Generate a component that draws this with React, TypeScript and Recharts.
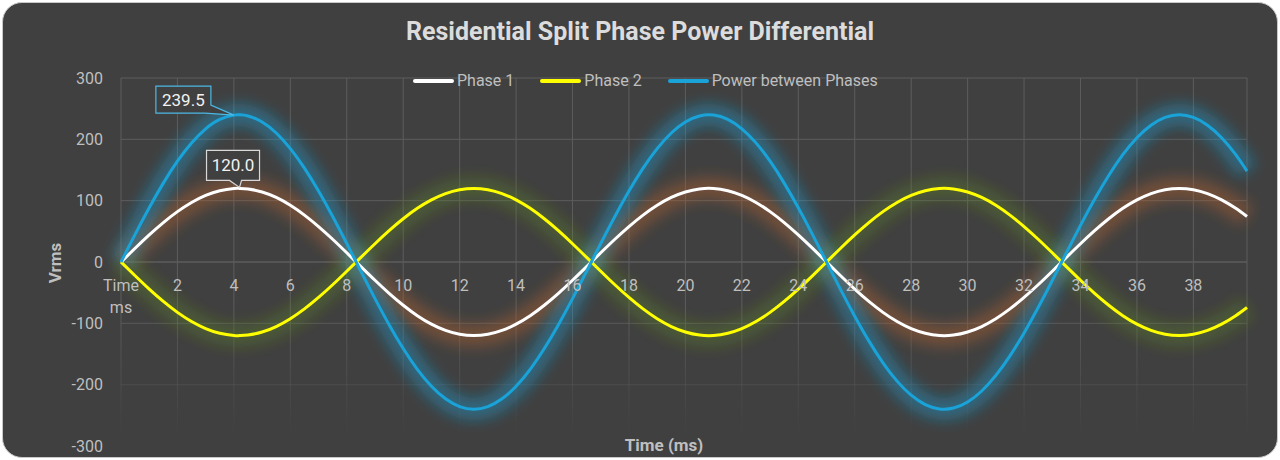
import React from "react"
import { CartesianGrid, Line, LineChart, ReferenceLine, XAxis, YAxis } from "recharts"

// sampled every 0.5 ms (plus the two labelled points and the last sample)
const timeMs = [
  0, 0.5, 1, 1.5, 2, 2.5, 3, 3.5, 4, 4.2,
  4.5, 5, 5.5, 6, 6.5, 7, 7.5, 8, 8.5, 9,
  9.5, 10, 10.5, 11, 11.5, 12, 12.5, 13, 13.5, 14,
  14.5, 15, 15.5, 16, 16.5, 17, 17.5, 18, 18.5, 19,
  19.5, 20, 20.5, 21, 21.5, 22, 22.5, 23, 23.5, 24,
  24.5, 25, 25.5, 26, 26.5, 27, 27.5, 28, 28.5, 29,
  29.5, 30, 30.5, 31, 31.5, 32, 32.5, 33, 33.5, 34,
  34.5, 35, 35.5, 36, 36.5, 37, 37.5, 38, 38.5, 39,
  39.5, 39.9,
]

const phase1 = [
  0, 22.5, 44.2, 64.3, 82.1, 97.1, 108.6, 116.2, 119.8, 120.0,
  119.1, 114.1, 105.2, 92.5, 76.5, 57.8, 37.1, 15.0, -7.5, -29.8,
  -51.1, -70.5, -87.5, -101.3, -111.6, -117.9, -120.0, -117.9, -111.6, -101.3,
  -87.5, -70.5, -51.1, -29.8, -7.5, 15.0, 37.1, 57.8, 76.5, 92.5,
  105.2, 114.1, 119.1, 119.8, 116.2, 108.6, 97.1, 82.1, 64.3, 44.2,
  22.5, 0, -22.5, -44.2, -64.3, -82.1, -97.1, -108.6, -116.2, -119.8,
  -119.1, -114.1, -105.2, -92.5, -76.5, -57.8, -37.1, -15.0, 7.5, 29.8,
  51.1, 70.5, 87.5, 101.3, 111.6, 117.9, 120.0, 117.9, 111.6, 101.3,
  87.5, 74.1,
]

const phase2 = [
  0, -22.5, -44.2, -64.3, -82.1, -97.1, -108.6, -116.2, -119.8, -120.0,
  -119.1, -114.1, -105.2, -92.5, -76.5, -57.8, -37.1, -15.0, 7.5, 29.8,
  51.1, 70.5, 87.5, 101.3, 111.6, 117.9, 120.0, 117.9, 111.6, 101.3,
  87.5, 70.5, 51.1, 29.8, 7.5, -15.0, -37.1, -57.8, -76.5, -92.5,
  -105.2, -114.1, -119.1, -119.8, -116.2, -108.6, -97.1, -82.1, -64.3, -44.2,
  -22.5, 0, 22.5, 44.2, 64.3, 82.1, 97.1, 108.6, 116.2, 119.8,
  119.1, 114.1, 105.2, 92.5, 76.5, 57.8, 37.1, 15.0, -7.5, -29.8,
  -51.1, -70.5, -87.5, -101.3, -111.6, -117.9, -120.0, -117.9, -111.6, -101.3,
  -87.5, -74.1,
]

const powerBetween = [
  0, 45.0, 88.3, 128.6, 164.3, 194.2, 217.2, 232.5, 239.5, 240.0,
  238.1, 228.3, 210.3, 184.9, 153.0, 115.6, 74.2, 30.1, -15.1, -59.7,
  -102.2, -141.1, -175.0, -202.6, -223.1, -235.7, -240.0, -235.7, -223.1, -202.6,
  -175.0, -141.1, -102.2, -59.7, -15.1, 30.1, 74.2, 115.6, 153.0, 184.9,
  210.3, 228.3, 238.1, 239.5, 232.5, 217.2, 194.2, 164.3, 128.6, 88.3,
  45.0, 0, -45.0, -88.3, -128.6, -164.3, -194.2, -217.2, -232.5, -239.5,
  -238.1, -228.3, -210.3, -184.9, -153.0, -115.6, -74.2, -30.1, 15.1, 59.7,
  102.2, 141.1, 175.0, 202.6, 223.1, 235.7, 240.0, 235.7, 223.1, 202.6,
  175.0, 148.2,
]

const xTicks = [0, 2, 4, 6, 8, 10, 12, 14, 16, 18, 20, 22, 24, 26, 28, 30, 32, 34, 36, 38]
const yTicks = [-300, -200, -100, 0, 100, 200, 300]

const POWER_LABEL_T = 4
const PHASE1_LABEL_T = 4.2

const series = [
  { key: "p1", name: "Phase 1", color: "#ffffff", glow: "#b8622a", glowOpacity: 0.42 },
  { key: "p2", name: "Phase 2", color: "#ffff00", glow: "#5f8a1c", glowOpacity: 0.34 },
  { key: "pw", name: "Power between Phases", color: "#1aa3d9", glow: "#1a9fd6", glowOpacity: 0.42 },
]

const data = timeMs.map((t, i) => ({ t, p1: phase1[i], p2: phase2[i], pw: powerBetween[i] }))

const FONT = 'Roboto, "Noto Sans", sans-serif'
const TEXT = "#bfbfbf"
const BG = "#404040"
const GRID = "#5c5c5c"

const W = 1280
const H = 460
const PLOT_TOP = 78
const PLOT_BOTTOM = 446
const HALF_PLOT = (PLOT_BOTTOM - PLOT_TOP) / 2

// x labels sit on the zero line, not under the plot
function ZeroLineTick(props: any) {
  const { x, y, payload } = props
  const base = y - HALF_PLOT + 29
  if (payload.value === 0) {
    return (
      <g>
        <text x={x} y={base} textAnchor="middle" fill={TEXT} fontSize={16} fontFamily={FONT}>Time</text>
        <text x={x} y={base + 22} textAnchor="middle" fill={TEXT} fontSize={16} fontFamily={FONT}>ms</text>
      </g>
    )
  }
  return (
    <text x={x} y={base} textAnchor="middle" fill={TEXT} fontSize={16} fontFamily={FONT}>{payload.value}</text>
  )
}

function powerLabel(props: any) {
  const { x, y, index, value } = props
  if (timeMs[index] !== POWER_LABEL_T) return <g />
  const path = `M${x - 78},${y - 29} H${x - 23} V${y - 10} L${x},${y} L${x - 29},${y - 2} H${x - 78} Z`
  return (
    <g>
      <path d={path} fill={BG} stroke="#4cb8e4" strokeWidth={1.2} />
      <text x={x - 50.5} y={y - 9.5} textAnchor="middle" fill="#f2f2f2" fontSize={17} fontFamily={FONT}>
        {Number(value).toFixed(1)}
      </text>
    </g>
  )
}

function phase1Label(props: any) {
  const { x, y, index, value } = props
  if (timeMs[index] !== PHASE1_LABEL_T) return <g />
  const path = `M${x - 33},${y - 38} H${x + 20} V${y - 8} H${x + 2} L${x},${y - 1} L${x - 10},${y - 8} H${x - 33} Z`
  return (
    <g>
      <path d={path} fill={BG} stroke="#d9d9d9" strokeWidth={1.2} />
      <text x={x - 6.5} y={y - 17} textAnchor="middle" fill="#f2f2f2" fontSize={17} fontFamily={FONT}>
        {Number(value).toFixed(1)}
      </text>
    </g>
  )
}

export default function App() {
  return (
    <div style={{ position: "relative", width: W, height: H, background: "#fff", fontFamily: FONT }}>
      <style>{"body{margin:0}"}</style>
      {/* card */}
      <div
        style={{
          position: "absolute", left: 2, top: 2, width: W - 4, height: H - 4, boxSizing: "border-box",
          background: BG, border: "1px solid #c9c9c9", borderRadius: 20,
        }}
      />

      <LineChart
        width={W}
        height={H}
        data={data}
        margin={{ top: PLOT_TOP, right: 33, bottom: H - PLOT_BOTTOM - 1, left: 0 }}
        style={{ position: "absolute", left: 0, top: 0 }}
      >
        <defs>
          <filter id="glowBlur" x="-20%" y="-50%" width="140%" height="200%">
            <feGaussianBlur stdDeviation="7" />
          </filter>
          <linearGradient id="gridFade" gradientUnits="userSpaceOnUse" x1="0" y1={PLOT_TOP} x2="0" y2={PLOT_BOTTOM}>
            <stop offset="0" stopColor={GRID} stopOpacity={1} />
            <stop offset="0.62" stopColor={GRID} stopOpacity={1} />
            <stop offset="0.85" stopColor={GRID} stopOpacity={0.35} />
            <stop offset="0.97" stopColor={GRID} stopOpacity={0} />
          </linearGradient>
        </defs>
        <CartesianGrid stroke="url(#gridFade)" strokeWidth={1} />
        <XAxis
          dataKey="t"
          type="number"
          domain={[0, 39.9]}
          ticks={xTicks}
          interval={0}
          height={1}
          axisLine={false}
          tickLine={false}
          tickSize={0}
          tickMargin={0}
          tick={<ZeroLineTick />}
        />
        <YAxis
          domain={[-300, 300]}
          ticks={yTicks}
          width={121}
          axisLine={false}
          tickLine={false}
          tickSize={0}
          tickMargin={18}
          tick={{ fill: TEXT, fontSize: 16, fontFamily: FONT }}
        />
        <ReferenceLine y={0} stroke={GRID} />

        {series.map((s) => (
          <Line
            key={`glow-${s.key}`}
            dataKey={s.key}
            type="natural"
            stroke={s.glow}
            strokeWidth={22}
            strokeOpacity={s.glowOpacity}
            filter="url(#glowBlur)"
            dot={false}
            activeDot={false}
            legendType="none"
            isAnimationActive={false}
          />
        ))}

        <Line dataKey="p1" name="Phase 1" type="natural" stroke="#ffffff" strokeWidth={3} dot={false} isAnimationActive={false} label={phase1Label} />
        <Line dataKey="p2" name="Phase 2" type="natural" stroke="#ffff00" strokeWidth={3} dot={false} isAnimationActive={false} />
        <Line dataKey="pw" name="Power between Phases" type="natural" stroke="#1aa3d9" strokeWidth={3} dot={false} isAnimationActive={false} label={powerLabel} />
      </LineChart>

      {/* title */}
      <div
        style={{
          position: "absolute", left: 0, top: 17, width: W, textAlign: "center",
          color: "#dcdcdc", fontSize: 25, fontWeight: 700, lineHeight: "30px",
        }}
      >
        Residential Split Phase Power Differential
      </div>

      {/* legend */}
      <div style={{ position: "absolute", left: 413, top: 71, height: 20, display: "flex", alignItems: "center" }}>
        {series.map((s, i) => (
          <div key={s.key} style={{ display: "flex", alignItems: "center", marginRight: i < series.length - 1 ? 26 : 0 }}>
            <div style={{ width: 41, height: 4, borderRadius: 2, background: s.color }} />
            <span style={{ marginLeft: 3, color: TEXT, fontSize: 16, lineHeight: "20px" }}>{s.name}</span>
          </div>
        ))}
      </div>

      {/* axis titles */}
      <div
        style={{
          position: "absolute", left: 55, top: 263, transform: "translate(-50%, -50%) rotate(-90deg)",
          color: TEXT, fontSize: 17, fontWeight: 700,
        }}
      >
        Vrms
      </div>
      <div
        style={{
          position: "absolute", left: 664, top: 445, transform: "translate(-50%, -50%)",
          color: TEXT, fontSize: 17, fontWeight: 700, whiteSpace: "nowrap",
        }}
      >
        Time (ms)
      </div>
    </div>
  )
}
